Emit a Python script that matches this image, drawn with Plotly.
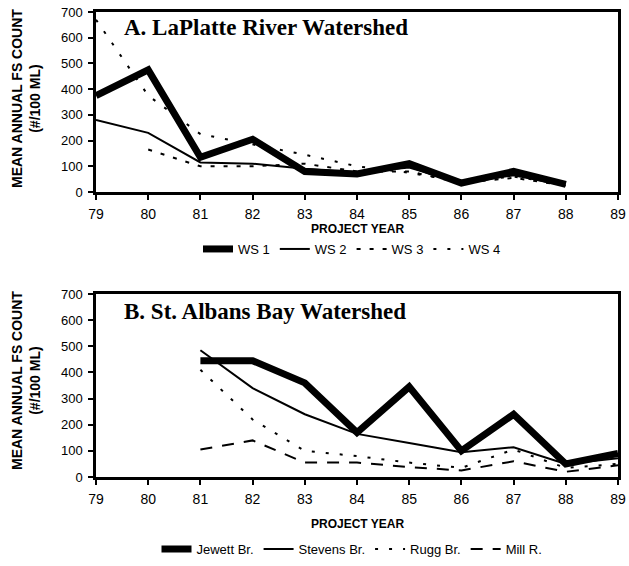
import plotly.graph_objects as go

# ---------------- data ----------------
years_a = [79, 80, 81, 82, 83, 84, 85, 86, 87, 88]
ws1 = [375, 475, 135, 205, 80, 70, 110, 35, 80, 30]
ws2 = [280, 230, 115, 110, 90, 75, 95, 35, 65, 25]
years_ws3 = [80, 81, 82, 83, 84, 85, 86, 87, 88]
ws3 = [165, 100, 100, 110, 80, 80, 35, 55, 25]
ws4 = [670, 375, 225, 185, 145, 100, 75, 40, 60, 30]

years_b = [81, 82, 83, 84, 85, 86, 87, 88, 89]
jewett = [445, 445, 360, 170, 345, 100, 240, 50, 90]
stevens = [485, 340, 240, 165, 130, 95, 114, 50, 72]
rugg = [410, 220, 100, 80, 55, 35, 105, 35, 50]
mill = [105, 140, 55, 55, 38, 25, 60, 20, 45]

x_ticks = [79, 80, 81, 82, 83, 84, 85, 86, 87, 88, 89]
y_ticks = [0, 100, 200, 300, 400, 500, 600, 700]

W, H = 629, 566

def px(x):
    return x / W

def py(y):
    return 1 - y / H

fig = go.Figure()

def tr(x, y, name, width, dash, xa, ya, legend):
    fig.add_trace(go.Scatter(
        x=x, y=y, name=name, mode="lines",
        line=dict(color="black", width=width, dash=dash),
        xaxis=xa, yaxis=ya, legend=legend, cliponaxis=True))

tr(years_a, ws1, "WS 1", 7, "solid", "x", "y", "legend")
tr(years_a, ws2, "WS 2", 2, "solid", "x", "y", "legend")
tr(years_ws3, ws3, "WS 3", 2, "4px,9px", "x", "y", "legend")
tr(years_a, ws4, "WS 4", 2, "3px,11px", "x", "y", "legend")

tr(years_b, jewett, "Jewett Br.", 7, "solid", "x2", "y2", "legend2")
tr(years_b, stevens, "Stevens Br.", 2, "solid", "x2", "y2", "legend2")
tr(years_b, rugg, "Rugg Br.", 2, "3px,11px", "x2", "y2", "legend2")
tr(years_b, mill, "Mill R.", 2, "12px,10px", "x2", "y2", "legend2")

xd = [px(96), px(618)]
yd_top = [py(192), py(12)]
yd_bot = [py(477), py(294)]

tickfont_x = dict(family="Liberation Sans, Arial", size=14, color="black")
tickfont_y = dict(family="Liberation Sans, Arial", size=13, color="black")

def xaxis(anchor):
    return dict(domain=xd, anchor=anchor, range=[79, 89], tickvals=x_ticks,
                ticktext=[str(v) for v in x_ticks], ticks="outside", ticklen=5,
                tickwidth=2, tickcolor="black", showline=True, linewidth=2.5,
                linecolor="black", mirror=True, showgrid=False, zeroline=False,
                tickfont=tickfont_x, fixedrange=True, automargin=False,
                ticklabelstandoff=2, ticklabeloverflow="allow")

def yaxis(anchor, dom):
    return dict(domain=dom, anchor=anchor, range=[0, 700], tickvals=y_ticks,
                ticks="outside", ticklen=5, tickwidth=2, tickcolor="black",
                showline=True, linewidth=2.5, linecolor="black", mirror=True,
                showgrid=False, zeroline=False, tickfont=tickfont_y, fixedrange=True,
                automargin=False, ticklabelstandoff=3, ticklabeloverflow="allow")

ylab_font = dict(family="Liberation Sans Narrow, Liberation Sans, Arial", size=14, color="black")
px_font = dict(family="Liberation Sans, Arial", size=12, color="black")
title_font = dict(family="Liberation Serif, Times New Roman", size=23, color="black")
annotations = [
    dict(text="<b>A. LaPlatte River Watershed</b>", xref="paper", yref="paper",
         x=px(122), y=py(27), xanchor="left", yanchor="middle",
         showarrow=False, font=title_font),
    dict(text="<b>B. St. Albans Bay Watershed</b>", xref="paper", yref="paper",
         x=px(122), y=py(311), xanchor="left", yanchor="middle",
         showarrow=False, font=title_font),
    dict(text="<b>PROJECT YEAR</b>", xref="paper", yref="paper", x=px(357), y=py(229),
         xanchor="center", yanchor="middle", showarrow=False, font=px_font),
    dict(text="<b>PROJECT YEAR</b>", xref="paper", yref="paper", x=px(357), y=py(524),
         xanchor="center", yanchor="middle", showarrow=False, font=px_font),
    dict(text="<b>MEAN ANNUAL FS COUNT<br>(#/100 ML)</b>", xref="paper", yref="paper",
         x=px(26), y=py(99), xanchor="center", yanchor="middle", textangle=-90,
         showarrow=False, font=ylab_font),
    dict(text="<b>MEAN ANNUAL FS COUNT<br>(#/100 ML)</b>", xref="paper", yref="paper",
         x=px(26), y=py(381), xanchor="center", yanchor="middle", textangle=-90,
         showarrow=False, font=ylab_font),
]

leg_font = dict(family="Liberation Sans, Arial", size=13, color="black")
fig.update_layout(
    width=W, height=H, autosize=False,
    margin=dict(l=0, r=0, t=0, b=0, autoexpand=False),
    paper_bgcolor="white", plot_bgcolor="white",
    xaxis=xaxis("y"), yaxis=yaxis("x", yd_top),
    xaxis2=xaxis("y2"), yaxis2=yaxis("x2", yd_bot),
    annotations=annotations,
    showlegend=True,
    legend=dict(orientation="h", x=px(352), y=py(249), xanchor="center", yanchor="middle",
                font=leg_font, bgcolor="rgba(0,0,0,0)", tracegroupgap=0),
    legend2=dict(orientation="h", x=px(352), y=py(549), xanchor="center", yanchor="middle",
                 font=leg_font, bgcolor="rgba(0,0,0,0)", tracegroupgap=0),
)

# remove the default page margin so the 629x566 figure fills the window exactly
fig.write_html("out.html", config={"displayModeBar": False},
               post_script="document.body.style.margin='0px';")
